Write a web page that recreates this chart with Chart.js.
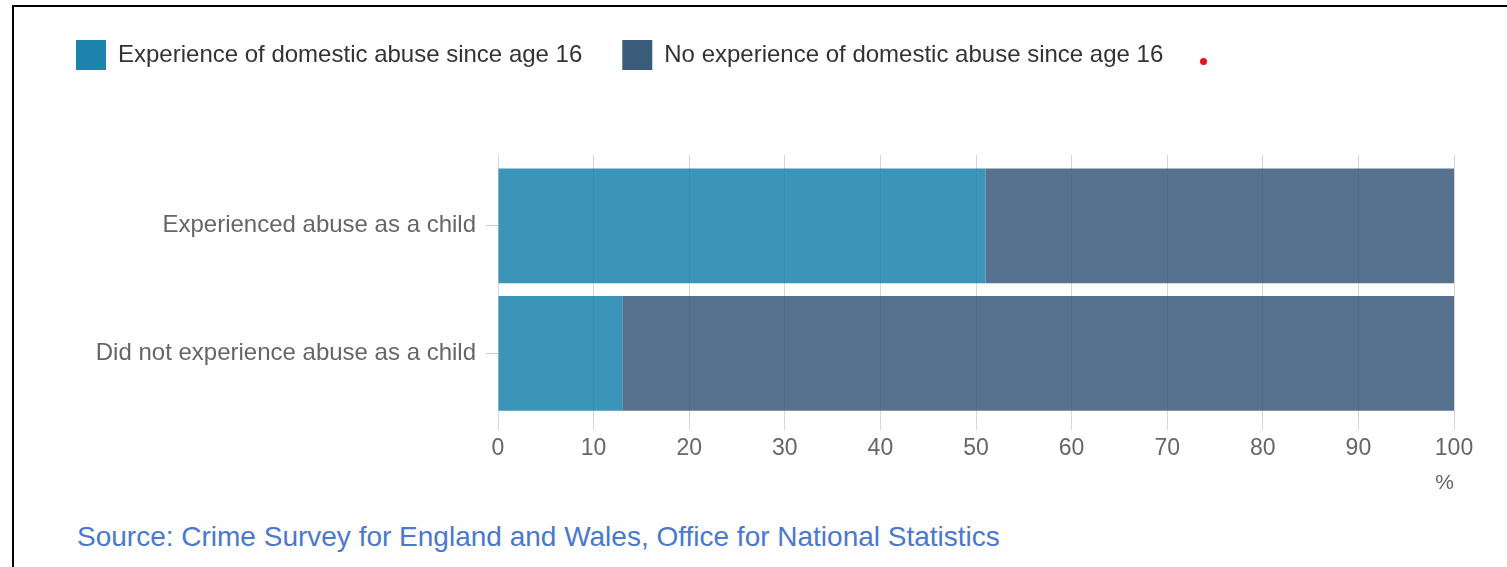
<!DOCTYPE html>
<html><head><meta charset="utf-8">
<script src="https://cdn.jsdelivr.net/npm/chart.js@4/dist/chart.umd.min.js"></script>
<style>
html,body{margin:0;padding:0;background:#fff;width:1507px;height:567px;overflow:hidden;font-family:"Liberation Sans",Arial,sans-serif;}
#frame{position:absolute;left:12px;top:5px;width:1500px;height:570px;border-top:2px solid #000;border-left:2px solid #000;box-sizing:border-box;}
#wrap{position:absolute;left:0;top:0;width:1507px;height:500px;}
#dot{position:absolute;left:1200px;top:58px;width:7px;height:7px;border-radius:50%;background:#e8141c;}
#source{position:absolute;left:77px;top:522px;font-size:28px;line-height:30px;color:#4a78cf;white-space:nowrap;}
</style></head>
<body>
<div id="frame"></div>
<div id="wrap"><canvas id="c" width="1507" height="500"></canvas></div>
<div id="dot"></div>
<div id="source">Source: Crime Survey for England and Wales, Office for National Statistics</div>
<script>
const categories = ["Experienced abuse as a child", "Did not experience abuse as a child"];
const seriesNames = ["Experience of domestic abuse since age 16", "No experience of domestic abuse since age 16"];
const experiencedDA = [51, 13];
const noExperienceDA = [49, 87];
const xTickValues = [0, 10, 20, 30, 40, 50, 60, 70, 80, 90, 100];
const xUnit = "%";

const solidColors = ["#1b83ac", "#3b5b7b"];
const barColors = ["rgba(27,131,172,0.86)", "rgba(59,91,123,0.86)"];
const FONT = "'Liberation Sans', Arial, sans-serif";
const PAD_LEFT = 36;

const gridExtend = {
  id: 'gridExtend',
  beforeDatasetsDraw(chart) {
    const {ctx, chartArea, scales: {x}} = chart;
    ctx.save();
    ctx.strokeStyle = '#d6d6d6';
    ctx.lineWidth = 1;
    x.ticks.forEach(t => {
      const px = Math.floor(x.getPixelForValue(t.value)) + 0.5;
      ctx.beginPath();
      ctx.moveTo(px, chartArea.top - 7);
      ctx.lineTo(px, chartArea.top);
      ctx.stroke();
    });
    ctx.restore();
  }
};

new Chart(document.getElementById('c'), {
  type: 'bar',
  data: {
    labels: categories,
    datasets: [
      {label: seriesNames[0], data: experiencedDA, backgroundColor: barColors[0], borderWidth: 0, barPercentage: 0.9, categoryPercentage: 1},
      {label: seriesNames[1], data: noExperienceDA, backgroundColor: barColors[1], borderWidth: 0, barPercentage: 0.9, categoryPercentage: 1}
    ]
  },
  plugins: [gridExtend],
  options: {
    indexAxis: 'y',
    responsive: false,
    animation: false,
    devicePixelRatio: 1,
    layout: {padding: {left: PAD_LEFT, right: 53, top: 0, bottom: 4}},
    scales: {
      x: {
        stacked: true, min: 0, max: 100,
        afterBuildTicks(scale) { scale.ticks = xTickValues.map(v => ({value: v})); },
        ticks: {font: {family: FONT, size: 23}, color: '#666', padding: 5, maxRotation: 0, autoSkip: false},
        grid: {color: '#d6d6d6', tickLength: 13, lineWidth: 1},
        border: {display: false},
        title: {display: true, text: xUnit, align: 'end', color: '#666', font: {family: FONT, size: 21}, padding: {top: 3, bottom: 0}}
      },
      y: {
        stacked: true,
        afterFit(scale) { scale.width = 498 - PAD_LEFT; },
        ticks: {font: {family: FONT, size: 24}, color: '#666', padding: 10},
        grid: {drawOnChartArea: false, drawTicks: true, tickLength: 12, color: '#cccccc', offset: false},
        border: {display: false}
      }
    },
    plugins: {
      tooltip: {enabled: false},
      title: {display: true, text: '', weight: 500, font: {size: 10}, padding: {top: 0, bottom: 70}},
      legend: {
        position: 'top', align: 'start',
        labels: {
          boxWidth: 30, boxHeight: 30, padding: 40,
          font: {family: FONT, size: 24}, color: '#333',
          generateLabels(chart) {
            return chart.data.datasets.map((d, i) => ({
              text: d.label, fillStyle: solidColors[i], strokeStyle: solidColors[i], lineWidth: 0,
              hidden: false, datasetIndex: i, fontColor: '#333'
            }));
          }
        }
      }
    }
  }
});
</script>
</body></html>
